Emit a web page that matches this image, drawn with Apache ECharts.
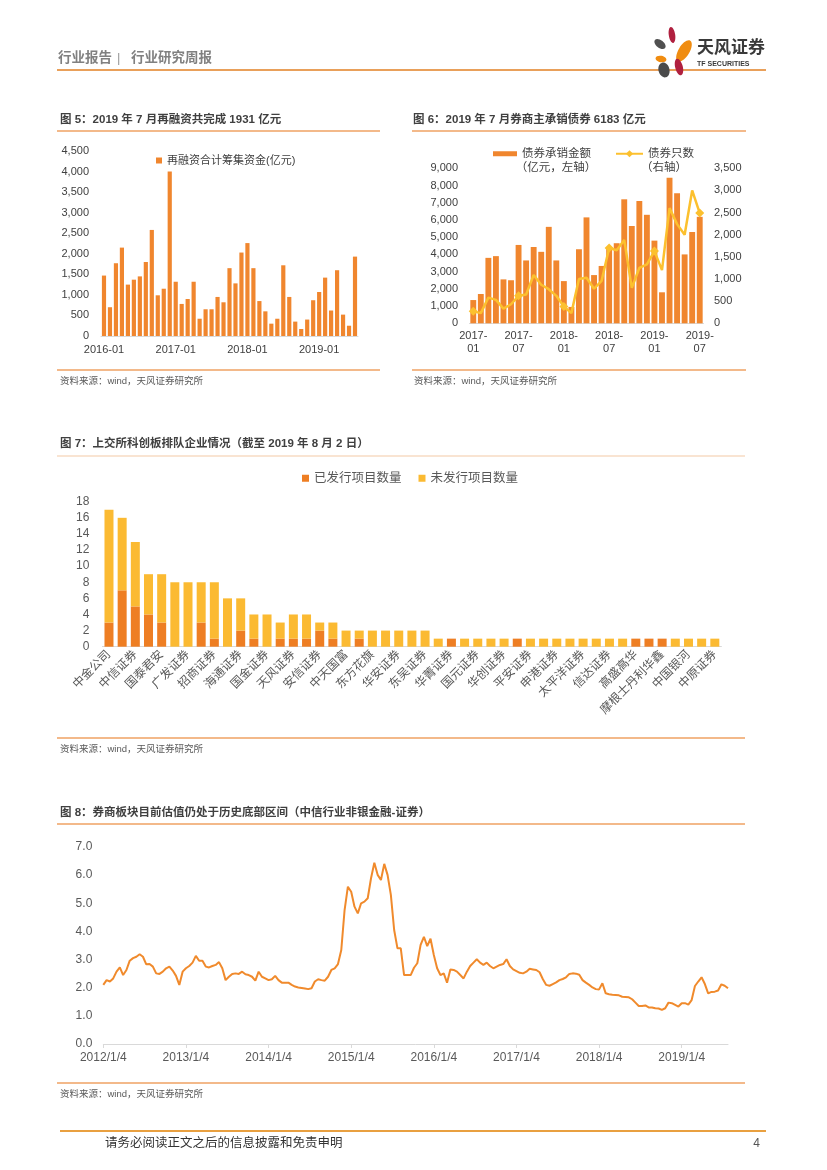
<!DOCTYPE html>
<html>
<head>
<meta charset="utf-8">
<script src="https://cdn.jsdelivr.net/npm/echarts@6/dist/echarts.min.js"></script>
<style>
html,body{margin:0;padding:0;background:#fff;}
#page{width:827px;height:1170px;}
</style>
</head>
<body>
<div id="page"></div>
<script>
// ---------- Figure 5: refinancing (100m CNY), monthly 2016-01 .. 2019-07 ----------
const months5 = ['2016-01','2016-02','2016-03','2016-04','2016-05','2016-06','2016-07','2016-08','2016-09','2016-10','2016-11','2016-12',
  '2017-01','2017-02','2017-03','2017-04','2017-05','2017-06','2017-07','2017-08','2017-09','2017-10','2017-11','2017-12',
  '2018-01','2018-02','2018-03','2018-04','2018-05','2018-06','2018-07','2018-08','2018-09','2018-10','2018-11','2018-12',
  '2019-01','2019-02','2019-03','2019-04','2019-05','2019-06','2019-07'];
const refinance = [1470,700,1770,2150,1250,1370,1450,1800,2580,990,1150,4000,
  1320,780,900,1320,420,650,650,950,820,1650,1280,2030,
  2260,1650,850,600,300,420,1720,950,350,170,400,870,
  1070,1420,620,1600,520,250,1931];

// ---------- Figure 6: bond underwriting, monthly 2017-01 .. 2019-07 ----------
const months6 = ['2017-01','2017-02','2017-03','2017-04','2017-05','2017-06','2017-07','2017-08','2017-09','2017-10','2017-11','2017-12',
  '2018-01','2018-02','2018-03','2018-04','2018-05','2018-06','2018-07','2018-08','2018-09','2018-10','2018-11','2018-12',
  '2019-01','2019-02','2019-03','2019-04','2019-05','2019-06','2019-07'];
const bondAmount = [1350,1700,3800,3900,2550,2500,4550,3650,4430,4150,5600,3650,
  2450,950,4300,6150,2800,3330,4400,4650,7200,5650,7100,6300,
  4800,1800,8450,7550,4000,5300,6183];
const bondCount = [270,230,580,530,330,430,620,650,1090,870,770,620,
  380,230,1000,1030,780,960,1700,1650,1880,800,1250,1330,
  1630,1200,2600,2240,2000,3000,2490];

// ---------- Figure 7: STAR market sponsors ----------
const sponsors = ['中金公司','华泰联合','中信证券','中信建投','国泰君安','国信证券','广发证券','民生证券','招商证券','光大证券',
  '海通证券','申万宏源','国金证券','长江证券','天风证券','东兴证券','安信证券','兴业证券','中天国富','南京证券',
  '东方花旗','浙商证券','华安证券','财通证券','东吴证券','五矿证券','华菁证券','东北证券','国元证券','西部证券',
  '华创证券','华西证券','平安证券','湘财证券','申港证券','瑞银证券','太平洋证券','长城证券','信达证券','国海证券',
  '高盛高华','中银国际','摩根士丹利华鑫','华林证券','中国银河','开源证券','中原证券'];
const issuedProjects = [3,7,5,4,3,0,0,3,1,0,2,1,0,1,1,1,2,1,0,1,0,0,0,0,0,0,1,0,0,0,0,1,0,0,0,0,0,0,0,0,1,1,1,0,0,0,0];
const pendingProjects = [14,9,8,5,6,8,8,5,7,6,4,3,4,2,3,3,1,2,2,1,2,2,2,2,2,1,0,1,1,1,1,0,1,1,1,1,1,1,1,1,0,0,0,1,1,1,1];

// ---------- Figure 8: broker sector PB (read roughly every two weeks) ----------
const pbYears = [2012,2013,2014,2015,2016,2017,2018,2019];
const pb2012 = [2.10,2.27,2.22,2.33,2.57,2.72,2.45,2.63,2.96,3.05,3.10,3.19,3.10,2.83,2.84,2.75,2.51,2.49,2.57,2.69,2.75,2.61,2.42,2.10,2.57];
const pb2013 = [2.69,2.77,2.89,3.13,2.96,2.96,2.75,2.72,2.77,2.81,2.91,2.69,2.27,2.39,2.49,2.51,2.49,2.57,2.48,2.45,2.39,2.25,2.57,2.39,2.33];
const pb2014 = [2.27,2.30,2.42,2.27,2.18,2.18,2.18,2.10,2.04,2.01,1.99,1.97,1.95,1.98,2.22,2.30,2.27,2.25,2.39,2.63,2.69,2.84,3.34,4.76,5.59];
const pb2015 = [5.41,4.88,4.64,5.00,5.06,5.18,5.89,6.44,6.01,5.83,6.40,6.01,5.30,4.05,3.40,3.40,2.45,2.45,2.45,2.71,2.87,3.52,3.81,3.48,3.74];
const pb2016 = [3.16,2.69,2.45,2.51,2.18,2.65,2.63,2.57,2.45,2.33,2.57,2.77,2.89,3.01,2.89,2.81,2.89,2.77,2.69,2.75,2.81,2.84,3.01,2.77,2.65];
const pb2017 = [2.59,2.53,2.51,2.57,2.67,2.65,2.63,2.55,2.30,2.10,2.07,2.13,2.19,2.27,2.31,2.37,2.49,2.51,2.50,2.46,2.27,2.18,2.10,2.01,1.95];
const pb2018 = [1.94,2.16,1.80,1.77,1.75,1.74,1.73,1.68,1.67,1.66,1.59,1.47,1.35,1.35,1.37,1.30,1.30,1.27,1.26,1.21,1.27,1.47,1.45,1.39,1.33];
const pb2019 = [1.45,1.45,1.40,1.56,2.06,2.22,2.37,2.13,1.80,1.85,1.86,1.90,2.12,2.07,1.98];

// build date categories for figure 8
const pbByYear = [pb2012,pb2013,pb2014,pb2015,pb2016,pb2017,pb2018,pb2019];
const pbDates = [], pbValues = [];
pbYears.forEach((y, yi) => {
  pbByYear[yi].forEach((v, i) => {
    const d = new Date(Date.UTC(y, 0, 4 + Math.round(i * 365 / 25)));
    pbDates.push(d.getUTCFullYear() + '/' + (d.getUTCMonth() + 1) + '/' + d.getUTCDate() + (i === 0 ? '' : ' '));
    pbValues.push(v);
  });
});
const yearStart = (idx, val) => /\/1\/4$/.test(val);

const FONT = 'Liberation Sans, Noto Sans CJK SC, sans-serif';
const ORANGE = '#F0862E';
const LINEC = '#EFA263';
const comma = v => v.toLocaleString('en-US');

function hline(x1, x2, y, w, c) {
  return {type:'line', shape:{x1:x1, y1:y, x2:x2, y2:y}, style:{stroke:c || LINEC, lineWidth:w || 1.5}, silent:true};
}
function txt(x, y, s, size, color, weight, align) {
  return {type:'text', x:x, y:y, style:{text:s, fontSize:size, fill:color, fontWeight:weight || 'normal',
    fontFamily:FONT, textAlign:align || 'left', textVerticalAlign:'middle'}, silent:true};
}
function petal(cx, cy, rx, ry, rot, color) {
  return {type:'ellipse', x:cx, y:cy, rotation:rot, shape:{cx:0, cy:0, rx:rx, ry:ry}, style:{fill:color}, silent:true};
}

const source = '资料来源：wind，天风证券研究所';

const graphics = [
  // header
  txt(58, 58, '行业报告', 13.5, '#808080', 'bold'),
  txt(117, 58, '|', 13, '#999999'),
  txt(131, 58, '行业研究周报', 13.5, '#808080', 'bold'),
  hline(57, 766, 70, 2.2, '#E9A05A'),
  // logo
  petal(672, 35, 3.2, 8, 0.15, '#B0203F'),
  petal(684, 51, 5.5, 12, -0.55, '#F08C10'),
  petal(660, 44, 3.8, 6.5, 0.9, '#505050'),
  petal(661, 59, 5.5, 3.2, -0.2, '#F08C10'),
  petal(664, 70, 5.5, 7.5, 0.25, '#4A4A4A'),
  petal(679, 67, 3.8, 8.5, 0.25, '#B0203F'),
  txt(697, 48, '天风证券', 17, '#3a3a3a', 'bold'),
  txt(697, 64, 'TF SECURITIES', 7, '#3a3a3a', 'bold'),
  // figure 5 / 6 frame
  txt(60, 120, '图 5：2019 年 7 月再融资共完成 1931 亿元', 11.5, '#404040', 'bold'),
  hline(57, 380, 131, 1.5),
  txt(413, 120, '图 6：2019 年 7 月券商主承销债券 6183 亿元', 11.5, '#404040', 'bold'),
  hline(412, 746, 131, 1.5),
  hline(57, 380, 370, 1.5),
  hline(412, 746, 370, 1.5),
  txt(60, 381, source, 9.5, '#595959'),
  txt(414, 381, source, 9.5, '#595959'),
  txt(556, 168, '（亿元，左轴）', 11.5, '#404040', 'normal', 'center'),
  txt(664, 168, '（右轴）', 11.5, '#404040', 'normal', 'center'),
  // figure 7 frame
  txt(60, 444, '图 7：上交所科创板排队企业情况（截至 2019 年 8 月 2 日）', 11.5, '#404040', 'bold'),
  hline(57, 745, 456, 1.2, '#F3C9A5'),
  hline(57, 745, 738, 1.5),
  txt(60, 749, source, 9.5, '#595959'),
  // figure 8 frame
  txt(60, 813, '图 8：券商板块目前估值仍处于历史底部区间（中信行业非银金融-证券）', 11.5, '#404040', 'bold'),
  hline(57, 745, 824, 1.5),
  hline(57, 745, 1083, 1.5),
  txt(60, 1094, source, 9.5, '#595959'),
  // footer
  hline(60, 766, 1131, 2.2, '#E9A040'),
  txt(105, 1144, '请务必阅读正文之后的信息披露和免责申明', 12.5, '#333333'),
  txt(760, 1144, '4', 12, '#555555', 'normal', 'right')
];

const axisGray = {show:true, lineStyle:{color:'#D9D9D9', width:1}};

const option = {
  animation: false,
  textStyle: {fontFamily: FONT},
  graphic: graphics,
  grid: [
    {left:101, top:151, width:257, height:185},
    {left:469.5, top:168.3, width:234, height:155},
    {left:102.4, top:501.7, width:619, height:145},
    {left:103.3, top:847, width:624.7, height:197}
  ],
  legend: [
    {data:['再融资合计筹集资金(亿元)'], left:151, top:150, icon:'rect', itemWidth:6, itemHeight:6, itemGap:0,
      textStyle:{fontSize:11, color:'#404040', fontFamily:FONT}},
    {data:['债券承销金额'], left:488, top:143, icon:'rect', itemWidth:24, itemHeight:5,
      textStyle:{fontSize:11.5, color:'#404040', fontFamily:FONT}},
    {data:['债券只数'], left:610, top:143, itemWidth:27, itemHeight:9,
      textStyle:{fontSize:11.5, color:'#404040', fontFamily:FONT}},
    {data:['已发行项目数量','未发行项目数量'], left:297, top:467, icon:'rect', itemWidth:7, itemHeight:7, itemGap:17,
      textStyle:{fontSize:12.5, color:'#595959', fontFamily:FONT}}
  ],
  xAxis: [
    {type:'category', gridIndex:0, data:months5, axisLine:axisGray, axisTick:{show:false},
      axisLabel:{interval:11, fontSize:11, color:'#404040', margin:8}},
    {type:'category', gridIndex:1, data:months6, axisLine:axisGray, axisTick:{show:false},
      axisLabel:{interval:5, fontSize:11, color:'#404040', margin:6, lineHeight:13,
        formatter: v => v.replace('-', '-\n')}},
    {type:'category', gridIndex:2, data:sponsors, axisLine:axisGray, axisTick:{show:false},
      axisLabel:{interval:1, rotate:45, fontSize:12, color:'#595959', margin:6}},
    {type:'category', gridIndex:3, data:pbDates, boundaryGap:false,
      axisLine:{show:true, lineStyle:{color:'#D9D9D9'}},
      axisTick:{show:true, interval:yearStart, length:4, lineStyle:{color:'#D9D9D9'}},
      axisLabel:{interval:yearStart, fontSize:12, color:'#595959', margin:8, formatter: v => v.trim()}}
  ],
  yAxis: [
    {type:'value', gridIndex:0, min:0, max:4500, interval:500, splitLine:{show:false}, axisLine:{show:false},
      axisLabel:{fontSize:11, color:'#404040', margin:12, formatter:comma}},
    {type:'value', gridIndex:1, min:0, max:9000, interval:1000, splitLine:{show:false}, axisLine:{show:false},
      axisLabel:{fontSize:11, color:'#404040', margin:11.5, formatter:comma}},
    {type:'value', gridIndex:1, position:'right', min:0, max:3500, interval:500, splitLine:{show:false}, axisLine:{show:false},
      axisLabel:{fontSize:11, color:'#404040', margin:10.5, formatter:comma}},
    {type:'value', gridIndex:2, min:0, max:18, interval:2, splitLine:{show:false}, axisLine:{show:false},
      axisLabel:{fontSize:12, color:'#595959', margin:13}},
    {type:'value', gridIndex:3, min:0, max:7, interval:1, splitLine:{show:false}, axisLine:{show:false},
      axisLabel:{fontSize:12, color:'#595959', margin:11, formatter: v => v.toFixed(1)}}
  ],
  series: [
    {name:'再融资合计筹集资金(亿元)', type:'bar', xAxisIndex:0, yAxisIndex:0, data:refinance,
      barWidth:'70%', itemStyle:{color:ORANGE}},
    {name:'债券承销金额', type:'bar', xAxisIndex:1, yAxisIndex:1, data:bondAmount,
      barWidth:'78%', itemStyle:{color:ORANGE}},
    {name:'债券只数', type:'line', xAxisIndex:1, yAxisIndex:2, data:bondCount,
      symbol:'diamond', symbolSize:9, lineStyle:{color:'#FCC02E', width:2.5}, itemStyle:{color:'#FCC02E'}},
    {name:'已发行项目数量', type:'bar', stack:'star', xAxisIndex:2, yAxisIndex:3, data:issuedProjects,
      barWidth:9, itemStyle:{color:'#EE7E23'}},
    {name:'未发行项目数量', type:'bar', stack:'star', xAxisIndex:2, yAxisIndex:3, data:pendingProjects,
      barWidth:9, itemStyle:{color:'#FBBA32'}},
    {name:'PB', type:'line', xAxisIndex:3, yAxisIndex:4, data:pbValues, showSymbol:false, symbol:'none',
      lineStyle:{color:'#F08A2C', width:2}}
  ]
};

const chart = echarts.init(document.getElementById('page'));
chart.setOption(option);
</script>
</body>
</html>
